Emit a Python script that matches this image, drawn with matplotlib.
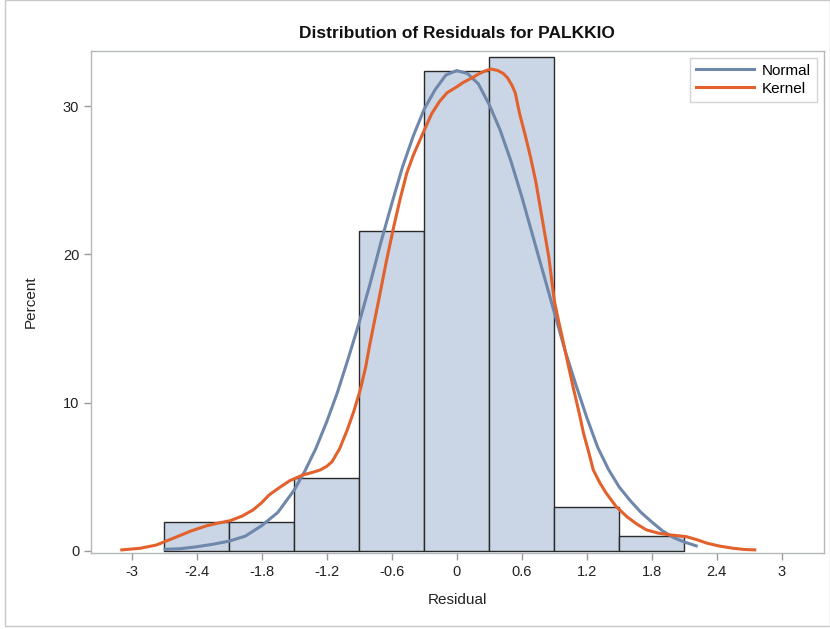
import matplotlib
matplotlib.use("Agg")
import matplotlib.pyplot as plt
from matplotlib.patches import Rectangle

plt.rcParams['font.family'] = ['Liberation Sans', 'DejaVu Sans']

# Histogram bins (midpoints) and percent heights
bin_mid = [-2.4, -1.8, -1.2, -0.6, 0.0, 0.6, 1.2, 1.8]
bin_width = 0.6
percent = [1.96, 1.96, 4.90, 21.57, 32.35, 33.33, 2.94, 0.98]

# Normal curve
normal_x = [-2.69, -2.55, -2.40, -2.25, -2.10, -1.95, -1.80, -1.65, -1.50, -1.40,
            -1.30, -1.20, -1.10, -1.00, -0.90, -0.80, -0.70, -0.60, -0.50, -0.40,
            -0.30, -0.20, -0.10, 0.00, 0.10, 0.20, 0.30, 0.40, 0.50, 0.60,
            0.70, 0.80, 0.90, 1.00, 1.10, 1.20, 1.30, 1.40, 1.50, 1.60,
            1.70, 1.80, 1.90, 2.00, 2.10, 2.21]
normal_y = [0.11, 0.15, 0.28, 0.45, 0.66, 1.00, 1.70, 2.60, 4.10, 5.40,
            6.90, 8.70, 10.70, 13.00, 15.40, 18.00, 20.80, 23.40, 25.90, 28.00,
            29.80, 31.10, 32.10, 32.40, 32.20, 31.50, 30.10, 28.40, 26.30, 23.90,
            21.30, 18.70, 16.10, 13.50, 11.20, 9.00, 7.00, 5.50, 4.30, 3.40,
            2.60, 1.95, 1.35, 0.90, 0.60, 0.34]

# Kernel density curve
kernel_x = [-3.09, -2.92, -2.77, -2.58, -2.45, -2.31, -2.20, -2.09, -1.98, -1.88,
            -1.80, -1.73, -1.63, -1.54, -1.42, -1.33, -1.26, -1.20, -1.15, -1.08,
            -1.01, -0.95, -0.89, -0.84, -0.80, -0.72, -0.65, -0.58, -0.52, -0.46,
            -0.40, -0.34, -0.28, -0.23, -0.16, -0.09, 0.00, 0.06, 0.14, 0.21,
            0.27, 0.32, 0.38, 0.43, 0.47, 0.51, 0.54, 0.58, 0.63, 0.68,
            0.73, 0.77, 0.81, 0.85, 0.90, 0.94, 0.98, 1.03, 1.08, 1.13,
            1.17, 1.22, 1.26, 1.32, 1.38, 1.47, 1.57, 1.66, 1.75, 1.86,
            1.97, 2.05, 2.12, 2.22, 2.31, 2.43, 2.55, 2.65, 2.75]
kernel_y = [0.07, 0.18, 0.40, 0.96, 1.35, 1.69, 1.88, 2.04, 2.35, 2.76,
            3.25, 3.78, 4.30, 4.74, 5.12, 5.30, 5.46, 5.70, 6.02, 6.90,
            8.16, 9.40, 10.86, 12.40, 14.00, 16.90, 19.50, 21.90, 23.80, 25.50,
            26.70, 27.70, 28.70, 29.50, 30.30, 30.90, 31.30, 31.60, 31.90, 32.20,
            32.40, 32.50, 32.40, 32.20, 31.90, 31.40, 30.90, 29.50, 28.10, 26.60,
            24.90, 23.20, 21.50, 19.80, 16.90, 15.50, 14.20, 12.50, 10.86, 9.30,
            7.94, 6.60, 5.46, 4.60, 3.89, 3.00, 2.31, 1.82, 1.42, 1.20,
            1.08, 1.02, 0.96, 0.75, 0.52, 0.32, 0.18, 0.10, 0.07]

x_ticks = [-3, -2.4, -1.8, -1.2, -0.6, 0, 0.6, 1.2, 1.8, 2.4, 3]
x_tick_labels = ['-3', '-2.4', '-1.8', '-1.2', '-0.6', '0', '0.6', '1.2', '1.8', '2.4', '3']
y_ticks = [0, 10, 20, 30]

fig = plt.figure(figsize=(8.30, 6.29), dpi=100)
fig.patches.append(Rectangle((5/830, 3/629), 1 - 5/830, 1 - 3/629, transform=fig.transFigure,
                             fill=False, edgecolor='#C8C8C8', linewidth=1.0))
ax = fig.add_axes([91/830, 1 - 553.3/629, (823.5 - 91)/830, (553.3 - 50.7)/629])

ax.bar(bin_mid, percent, width=bin_width, color='#CAD5E5', edgecolor='#2A2A2A',
       linewidth=1.0, zorder=2)
ax.plot(normal_x, normal_y, color='#6F87AA', linewidth=2.2, label='Normal', zorder=3,
        solid_joinstyle='round')
ax.plot(kernel_x, kernel_y, color='#E2612C', linewidth=2.2, label='Kernel', zorder=4,
        solid_joinstyle='round')

ax.set_xlim(-3.374, 3.384)
ax.set_ylim(-0.16, 33.74)
ax.set_xticks(x_ticks)
ax.set_xticklabels(x_tick_labels)
ax.set_yticks(y_ticks)

for s in ax.spines.values():
    s.set_color('#B4B8BC')
    s.set_linewidth(1.0)
ax.tick_params(axis='both', colors='#9A9A9A', labelcolor='#222222', labelsize=10.5,
               length=5, width=1.0, direction='out')

ax.set_xlabel('Residual', fontsize=11, color='#222222', labelpad=10)
ax.set_ylabel('Percent', fontsize=11, color='#222222', labelpad=18)
ax.set_title('Distribution of Residuals for PALKKIO', fontsize=12.5, fontweight='bold',
             color='#111111', pad=9)

leg = ax.legend(loc='upper right', frameon=True, fancybox=False, fontsize=11,
                handlelength=3.8, borderpad=0.4, labelspacing=0.25,
                borderaxespad=0.45, handletextpad=0.5)
leg.get_frame().set_edgecolor('#C8C8C8')
leg.get_frame().set_linewidth(1.0)

fig.savefig('out.png', dpi=100)
